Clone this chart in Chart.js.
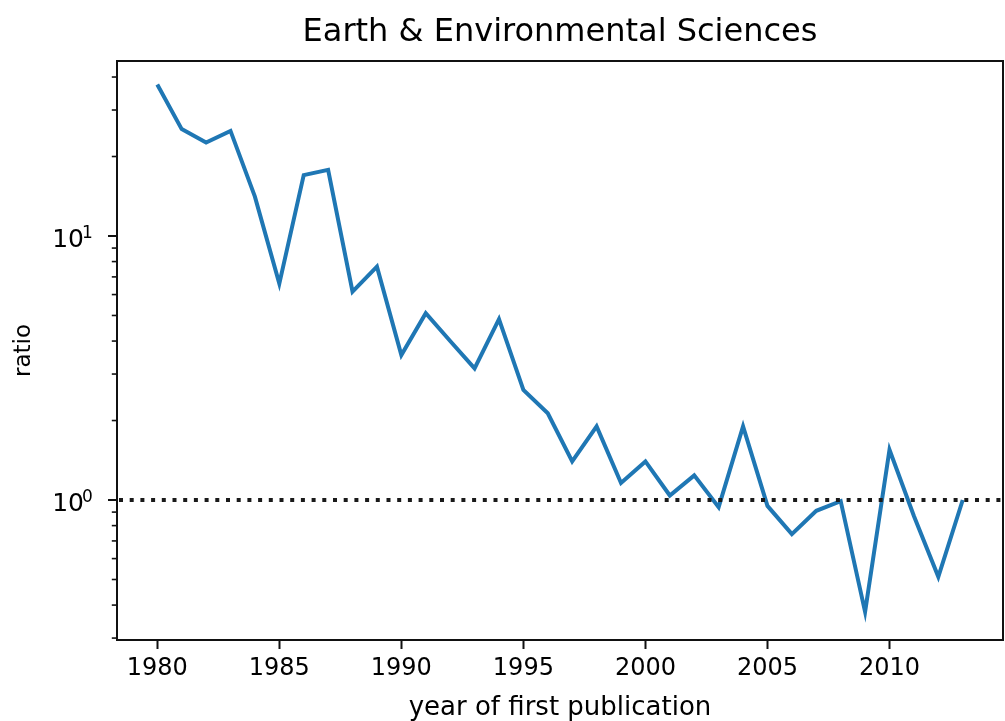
<!DOCTYPE html>
<html><head><meta charset="utf-8">
<script src="https://cdn.jsdelivr.net/npm/chart.js@4.4.0/dist/chart.umd.min.js"></script>
<style>html,body{margin:0;padding:0;background:#fff;}#wrap{width:1005px;height:721px;}</style>
</head><body><div id="wrap"><canvas id="c" width="1005" height="721"></canvas></div>
<script>
const TITLE = 'Earth & Environmental Sciences';
const X_LABEL = 'year of first publication';
const Y_LABEL = 'ratio';
const years = [1980,1981,1982,1983,1984,1985,1986,1987,1988,1989,
               1990,1991,1992,1993,1994,1995,1996,1997,1998,1999,
               2000,2001,2002,2003,2004,2005,2006,2007,2008,2009,
               2010,2011,2012,2013];
const ratio = [37.5,25.4,22.6,25.0,14.1,6.6,17.0,17.8,6.15,7.65,
               3.54,5.1,4.0,3.15,4.84,2.61,2.13,1.40,1.90,1.16,
               1.40,1.04,1.24,0.94,1.90,0.95,0.743,0.91,0.99,0.377,
               1.55,0.87,0.512,1.0];
const xTicks = [1980,1985,1990,1995,2000,2005,2010];
const yLabeledTicks = [1, 10];
const REFERENCE = 1;
const X_MIN = 1978.35, X_MAX = 2014.65;
const Y_MIN = 0.295, Y_MAX = 46;

const FONT = 'DejaVu Sans';
const isPow10 = v => Math.abs(Math.log10(v) - Math.round(Math.log10(v))) < 1e-9;

const framePlugin = {
  id: 'frame',
  afterDatasetsDraw(chart) {
    const ctx = chart.ctx, a = chart.chartArea, ys = chart.scales.y;
    // reference dotted line
    ctx.save();
    ctx.beginPath(); ctx.rect(a.left, a.top, a.right - a.left, a.bottom - a.top); ctx.clip();
    const py = ys.getPixelForValue(REFERENCE);
    ctx.strokeStyle = '#1a1a1a'; ctx.lineWidth = 3.8; ctx.lineCap = 'butt';
    ctx.setLineDash([4, 6.7]);
    ctx.beginPath(); ctx.moveTo(a.left + 2, py); ctx.lineTo(a.right, py); ctx.stroke();
    ctx.restore();
    // spines
    ctx.save();
    ctx.strokeStyle = '#111'; ctx.lineWidth = 2;
    ctx.strokeRect(a.left, a.top, a.right - a.left, a.bottom - a.top);
    // y ticks and labels
    ys.ticks.forEach(t => {
      const p = ys.getPixelForValue(t.value);
      const major = isPow10(t.value);
      ctx.lineWidth = major ? 2 : 1.6;
      const len = major ? 9 : 5.2;
      ctx.beginPath(); ctx.moveTo(a.left - len, p); ctx.lineTo(a.left, p); ctx.stroke();
      if (yLabeledTicks.some(l => Math.abs(l - t.value) < 1e-9)) {
        const e = String(Math.round(Math.log10(t.value)));
        ctx.fillStyle = '#000';
        ctx.textBaseline = 'alphabetic';
        ctx.font = '25px "' + FONT + '"';
        ctx.textAlign = 'right';
        ctx.fillText('10', a.left - 33, p + 11);
        ctx.font = '17px "' + FONT + '"';
        ctx.textAlign = 'left';
        ctx.fillText(e, a.left - 35, p + 2);
      }
    });
    ctx.restore();
  },
  afterDraw(chart) {
    const ctx = chart.ctx, a = chart.chartArea;
    ctx.save();
    ctx.fillStyle = '#000';
    ctx.font = '32px "' + FONT + '"';
    ctx.textAlign = 'center'; ctx.textBaseline = 'alphabetic';
    ctx.fillText(TITLE, (a.left + a.right) / 2, 41);
    ctx.restore();
  }
};

new Chart(document.getElementById('c'), {
  type: 'line',
  data: {
    datasets: [{
      data: years.map((yr, i) => ({x: yr, y: ratio[i]})),
      borderColor: '#1f77b4', borderWidth: 4, pointRadius: 0, tension: 0, fill: false
    }]
  },
  options: {
    responsive: false, animation: false, devicePixelRatio: 1,
    layout: {padding: {top: 61, right: 2, left: 0, bottom: 0}},
    plugins: {legend: {display: false}, tooltip: {enabled: false}, title: {display: false}},
    scales: {
      x: {
        type: 'linear', min: X_MIN, max: X_MAX,
        afterBuildTicks: s => { s.ticks = xTicks.map(v => ({value: v})); },
        afterFit: s => { s.height = 81; },
        grid: {drawOnChartArea: false, drawTicks: true, tickLength: 9, tickWidth: 2, tickColor: '#111', color: '#111'},
        border: {display: false},
        ticks: {font: {family: FONT, size: 24}, color: '#000', padding: 5, maxRotation: 0, autoSkip: false,
                callback: v => String(v)},
        title: {display: true, text: X_LABEL, font: {family: FONT, size: 26}, color: '#000', padding: {top: 0, bottom: -3}}
      },
      y: {
        type: 'logarithmic', min: Y_MIN, max: Y_MAX,
        afterBuildTicks: s => {
          const t = [];
          for (let e = -1; e <= 1; e++) for (let m = 1; m <= 9; m++) {
            const v = m * Math.pow(10, e);
            if (v >= Y_MIN && v <= Y_MAX) t.push({value: v});
          }
          s.ticks = t;
        },
        afterFit: s => { s.width = 117; },
        grid: {display: false, drawTicks: false, tickLength: 0},
        border: {display: false},
        ticks: {display: false, autoSkip: false},
        title: {display: true, text: Y_LABEL, font: {family: FONT, size: 23}, color: '#000', padding: {top: 10, bottom: 0}}
      }
    }
  },
  plugins: [framePlugin]
});
</script></body></html>
